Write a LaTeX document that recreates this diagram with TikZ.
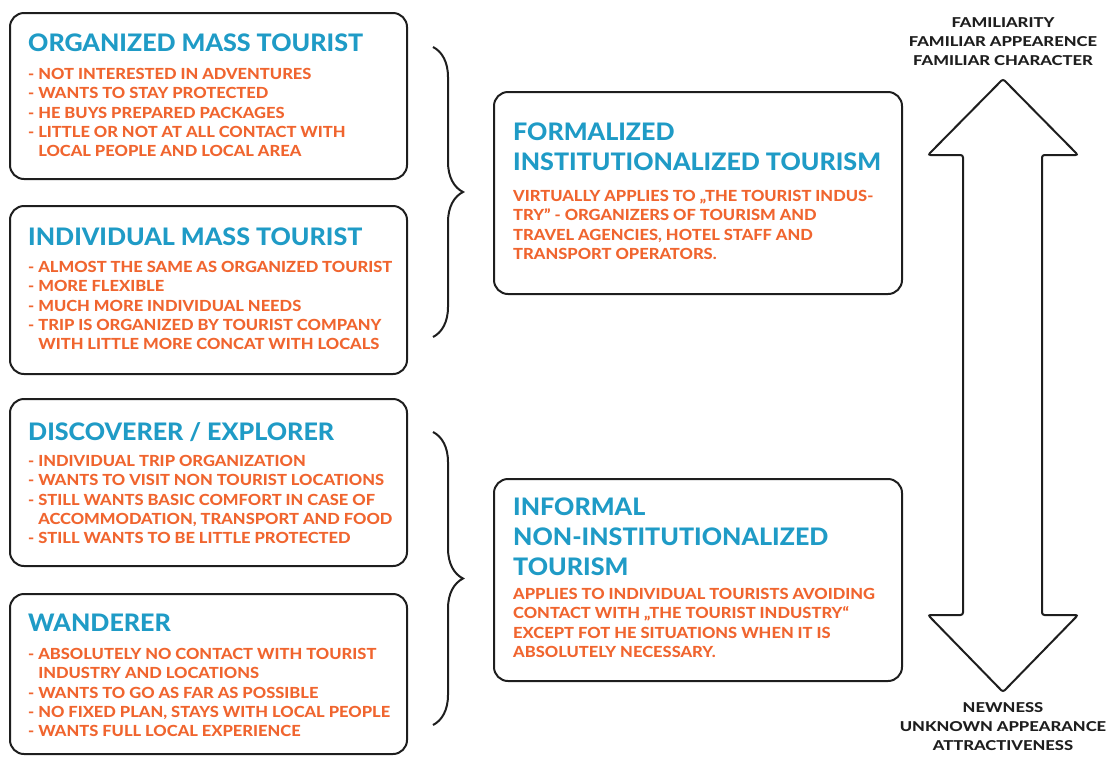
\documentclass[tikz,border=0pt]{standalone}
\usepackage{fontspec}
\setmainfont{Lato}
\IfFontExistsTF{Lato Heavy}{\def\heavyname{Lato Heavy}}{\IfFontExistsTF{Lato Black}{\def\heavyname{Lato Black}}{\def\heavyname{Lato Bold}}}
\newfontface\headface{\heavyname}[FakeStretch=1.04]
\newfontface\pointface{\heavyname}[FakeStretch=1.08]
\newfontface\scaleface{\heavyname}[FakeStretch=1.22]
\usetikzlibrary{decorations.pathreplacing}
\definecolor{headblue}{HTML}{1F9BC6}
\definecolor{pointorange}{HTML}{F0652F}
\definecolor{inkgray}{HTML}{1E1E1E}
\begin{document}
\begin{tikzpicture}[x=1pt, y=-1pt,
    card/.style={draw=inkgray, line width=2pt, rounded corners=14pt, anchor=north west, minimum width=397pt},
    headline/.style={anchor=north west, inner sep=0pt, align=left, text=headblue, font=\headface\fontsize{24.1}{29.7}\selectfont},
    points/.style={anchor=north west, inner sep=0pt, align=left, text=pointorange, font=\pointface\fontsize{15.3}{19.3}\selectfont},
    scaletext/.style={anchor=north, inner sep=0pt, align=center, text=inkgray, font=\scaleface\fontsize{13.6}{19.4}\selectfont}]
    \useasboundingbox (0,0) rectangle (1108,756);

    \node[card, minimum height=166pt] (orgcard) at (9,12) {};
    \node[headline] (orgtitle) at (28,34) {ORGANIZED MASS TOURIST};
    \node[points] (orgpoints) at (28,68) {- NOT INTERESTED IN ADVENTURES\\- WANTS TO STAY PROTECTED\\- HE BUYS PREPARED PACKAGES\\- LITTLE OR NOT AT ALL CONTACT WITH\\\phantom{- }LOCAL PEOPLE AND LOCAL AREA};

    \node[card, minimum height=168pt] (indcard) at (9,205) {};
    \node[headline] (indtitle) at (28,228) {INDIVIDUAL MASS TOURIST};
    \node[points] (indpoints) at (28,261) {- ALMOST THE SAME AS ORGANIZED TOURIST\\- MORE FLEXIBLE\\- MUCH MORE INDIVIDUAL NEEDS\\- TRIP IS ORGANIZED BY TOURIST COMPANY\\\phantom{- }WITH LITTLE MORE CONCAT WITH LOCALS};

    \node[card, minimum height=167pt] (disccard) at (9,398) {};
    \node[headline] (disctitle) at (28,422) {DISCOVERER / EXPLORER};
    \node[points] (discpoints) at (28,455) {- INDIVIDUAL TRIP ORGANIZATION\\- WANTS TO VISIT NON TOURIST LOCATIONS\\- STILL WANTS BASIC COMFORT IN CASE OF\\\phantom{- }ACCOMMODATION, TRANSPORT AND FOOD\\- STILL WANTS TO BE LITTLE PROTECTED};

    \node[card, minimum height=160pt] (wandcard) at (9,593) {};
    \node[headline] (wandtitle) at (28,614) {WANDERER};
    \node[points] (wandpoints) at (28,648) {- ABSOLUTELY NO CONTACT WITH TOURIST\\\phantom{- }INDUSTRY AND LOCATIONS\\- WANTS TO GO AS FAR AS POSSIBLE\\- NO FIXED PLAN, STAYS WITH LOCAL PEOPLE\\- WANTS FULL LOCAL EXPERIENCE};

    \node[card, minimum width=408pt, minimum height=202pt] (formcard) at (493,91) {};
    \node[headline] (formtitle) at (513,123) {FORMALIZED\\INSTITUTIONALIZED TOURISM};
    \node[points] (formpoints) at (513,190) {VIRTUALLY APPLIES TO „THE TOURIST INDUS-\\TRY” - ORGANIZERS OF TOURISM AND\\TRAVEL AGENCIES, HOTEL STAFF AND\\TRANSPORT OPERATORS.};

    \node[card, minimum width=408pt, minimum height=202pt] (infcard) at (493,478) {};
    \node[headline] (inftitle) at (513,498) {INFORMAL\\NON-INSTITUTIONALIZED\\TOURISM};
    \node[points] (infpoints) at (513,588) {APPLIES TO INDIVIDUAL TOURISTS AVOIDING\\CONTACT WITH „THE TOURIST INDUSTRY“\\EXCEPT FOT HE SITUATIONS WHEN IT IS\\ABSOLUTELY NECESSARY.};

    \coordinate (masstop) at (433,47);
    \coordinate (massbot) at (433,337);
    \coordinate (freetop) at (433,432);
    \coordinate (freebot) at (433,725);
    \draw[decorate, decoration={brace, amplitude=30pt}, line width=2pt, inkgray] (masstop) -- (massbot);
    \draw[decorate, decoration={brace, amplitude=30pt}, line width=2pt, inkgray] (freetop) -- (freebot);

    \draw[inkgray, line width=2pt, rounded corners=2.5pt] (1003,79) -- (1078,155) -- (1042,155) -- (1042,615) -- (1078,615) -- (1003,692) -- (928,615) -- (963,615) -- (963,155) -- (928,155) -- cycle;
    \node[scaletext] (familiar) at (1003,17) {FAMILIARITY\\FAMILIAR APPEARENCE\\FAMILIAR CHARACTER};
    \node[scaletext] (newness) at (1003,702) {NEWNESS\\UNKNOWN APPEARANCE\\ATTRACTIVENESS};
  \end{tikzpicture}
\end{document}
